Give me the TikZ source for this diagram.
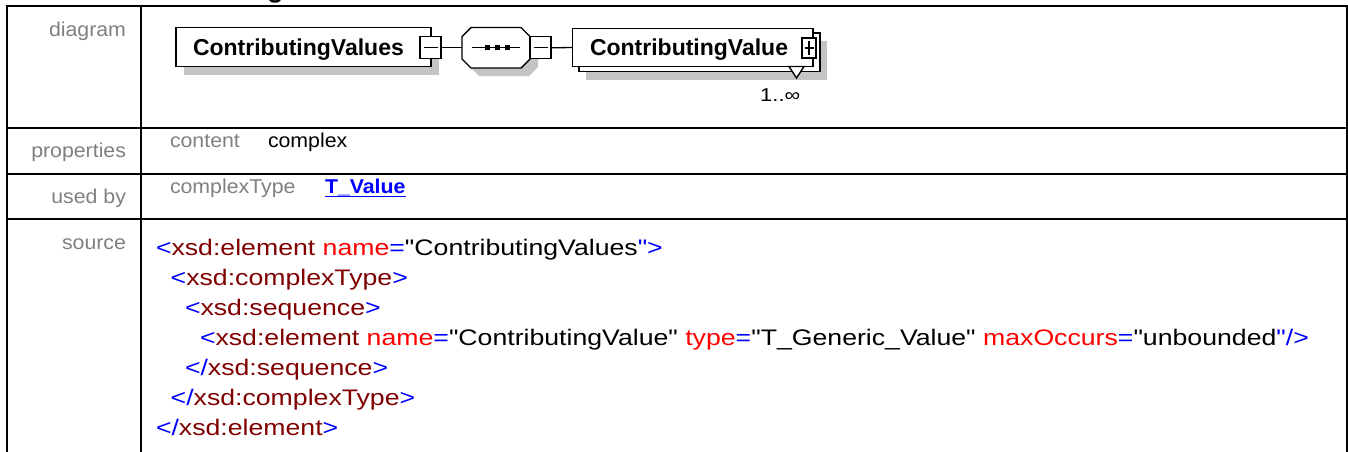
\documentclass[tikz,border=0pt]{standalone}
\usepackage{fontspec}
\setmainfont{Liberation Sans}[Ligatures=TeXOff]
\usepackage{graphicx}
\definecolor{xblue}{HTML}{0000FF}
\definecolor{xmar}{HTML}{800000}
\definecolor{xred}{HTML}{FF0000}
\definecolor{lblgray}{HTML}{808080}
\definecolor{shad}{HTML}{C4C4C4}
\newcommand{\xB}[1]{\textcolor{xblue}{#1}}
\newcommand{\xM}[1]{\textcolor{xmar}{#1}}
\newcommand{\xR}[1]{\textcolor{xred}{#1}}
\newcommand{\srcfont}{\fontsize{22.5}{27}\selectfont}
\newcommand{\lblfont}{\fontsize{20}{24}\selectfont}
\newcommand{\srcline}[1]{\scalebox{1.185}[1]{\srcfont #1}}
\newcommand{\lbltext}[1]{\scalebox{1.065}[1]{\lblfont #1}}
\begin{document}
\begin{tikzpicture}[x=1pt,y=-1pt,
  tbl/.style={line width=2pt,draw=black},
  lbl/.style={anchor=base east,inner sep=0pt,outer sep=0pt,text=lblgray},
  prop/.style={anchor=base west,inner sep=0pt,outer sep=0pt},
  src/.style={anchor=base west,inner sep=0pt,outer sep=0pt},
  elbox/.style={draw=black,fill=white,line width=1.4pt,inner sep=0pt,outer sep=0pt},
  boxtxt/.style={anchor=base west,inner sep=0pt,outer sep=0pt,font=\fontsize{23}{27}\selectfont\bfseries},
  pmbox/.style={draw=black,fill=white,line width=1.3pt,inner sep=0pt,outer sep=0pt,minimum width=21pt,minimum height=22pt},
  conn/.style={line width=1.3pt,draw=black},
  shadowfill/.style={fill=shad,draw=none}
]
\useasboundingbox (0,0) rectangle (1348,451);
\clip (0,0) rectangle (1348,451);
\fill[white] (0,0) rectangle (1348,451);

% heading fragment (cut off at the top, as in the reference)
\node[anchor=base west,inner sep=0pt,font=\fontsize{27}{30}\selectfont\bfseries] (head) at (267,-3) {g};

% table
\draw[tbl] (7,470) -- (7,6) -- (1346.7,6) -- (1346.7,470);
\draw[tbl] (141,6) -- (141,470);
\draw[tbl] (7,127.7) -- (1346.7,127.7);
\draw[tbl] (7,173.7) -- (1346.7,173.7);
\draw[tbl] (7,219) -- (1346.7,219);

% left labels
\node[lbl] (ldiag) at (126,36.7) {\lbltext{diagram}};
\node[lbl] (lprop) at (126,157) {\lbltext{properties}};
\node[lbl] (lused) at (126,203) {\lbltext{used by}};
\node[lbl] (lsrc) at (126,249.5) {\lbltext{source}};

% properties / used by
\node[prop,text=lblgray] (pcontent) at (170,147.7) {\lbltext{content}};
\node[prop] (pcomplex) at (268,147.7) {\lbltext{complex}};
\node[prop,text=lblgray] (ucomplex) at (170,193.3) {\lbltext{complexType}};
\node[prop,text=xblue] (tval) at (325,193.3) {\scalebox{1.065}[1]{\lblfont\bfseries T\_Value}};
\draw[xblue,line width=1.4pt] ([yshift=-3.4pt]tval.base west) -- ([yshift=-3.4pt]tval.base east);

% source lines
\node[src] (s1) at (156,255) {\srcline{\xB{<}\xM{xsd:element} \xR{name}\xB{=}"ContributingValues\xB{">}}};
\node[src] (s2) at (170.7,285) {\srcline{\xB{<}\xM{xsd:complexType}\xB{>}}};
\node[src] (s3) at (185,315) {\srcline{\xB{<}\xM{xsd:sequence}\xB{>}}};
\node[src] (s4) at (200,345) {\srcline{\xB{<}\xM{xsd:element} \xR{name}\xB{=}"ContributingValue" \xR{type}\xB{=}"T\_Generic\_Value" \xR{maxOccurs}\xB{=}"unbounded\xB{"/>}}};
\node[src] (s5) at (185,375) {\srcline{\xB{</}\xM{xsd:sequence}\xB{>}}};
\node[src] (s6) at (170.7,405) {\srcline{\xB{</}\xM{xsd:complexType}\xB{>}}};
\node[src] (s7) at (156,435) {\srcline{\xB{</}\xM{xsd:element}\xB{>}}};

% ---- diagram ----
% shadows
\fill[shadowfill] (184,36) rectangle (439,75);
\fill[shadowfill] (479,35.5) -- (529,35.5) -- (538,44.5) -- (538,67) -- (529,76) -- (479,76) -- (470,67) -- (470,44.5) -- cycle;
\fill[shadowfill] (586,41) rectangle (827,79.5);

% element ContributingValues
\node[elbox,minimum width=255pt,minimum height=39pt] (b1) at (303.5,47.2) {};
\node[boxtxt] (b1t) at (193,55) {ContributingValues};
\node[pmbox] (m1) at (430.5,47.5) {};
\draw[conn] ([xshift=3.5pt]m1.west) -- ([xshift=-3.5pt]m1.east);

% sequence compositor
\draw[elbox] (471,27.5) -- (521,27.5) -- (530,36.5) -- (530,59) -- (521,68) -- (471,68) -- (462,59) -- (462,36.5) -- cycle;
\coordinate (seqW) at (462,47.5);
\draw[conn] (471.5,47.8) -- (520,47.8);
\fill (484.5,45.3) rectangle (489.5,50.3);
\fill (494.5,45.3) rectangle (499.5,50.3);
\fill (504.5,45.3) rectangle (509.5,50.3);
\node[pmbox] (m2) at (540.5,47.8) {};
\draw[conn] ([xshift=3.5pt]m2.west) -- ([xshift=-3.5pt]m2.east);

% element ContributingValue (multiple)
\draw[elbox] (579,33) rectangle (820,71.5);
\node[elbox,minimum width=240.5pt,minimum height=38.5pt] (b2) at (692.75,47.5) {};
\node[boxtxt] (b2t) at (590,55) {ContributingValue};
\node[elbox,minimum width=14pt,minimum height=20pt] (p2) at (809,48) {};
\draw[conn] ([xshift=2.5pt]p2.west) -- ([xshift=-2.5pt]p2.east);
\draw[conn] ([yshift=-3pt]p2.north) -- ([yshift=3pt]p2.south);
\draw[elbox] (789,66.5) -- (804,66.5) -- (796.5,78) -- cycle;
\node[anchor=base west,inner sep=0pt] (mult) at (760,101) {\scalebox{1.18}[1]{\fontsize{18.6}{22}\selectfont 1..∞}};

% connectors
\draw[conn] (m1.east) -- (seqW);
\draw[conn] (m2.east) -- (b2.west);
\end{tikzpicture}
\end{document}
